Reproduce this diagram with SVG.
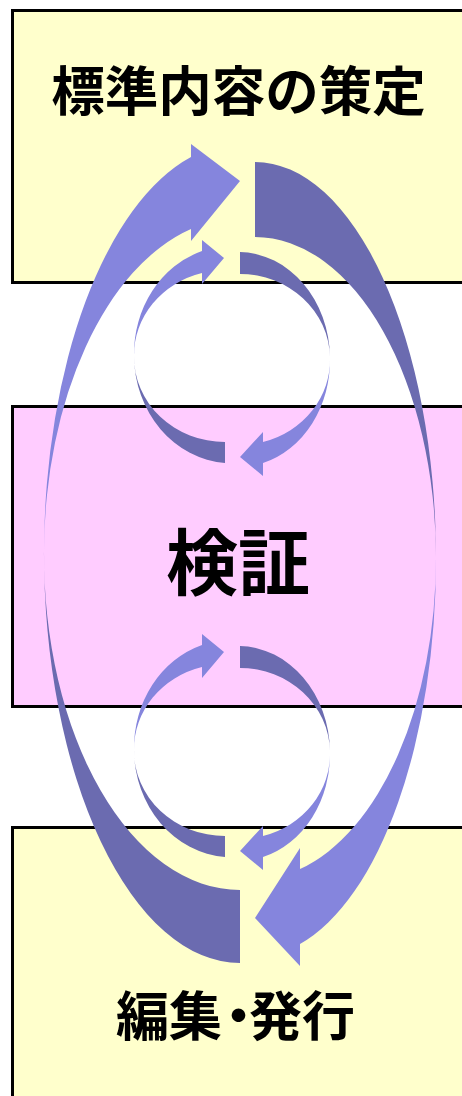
<svg xmlns="http://www.w3.org/2000/svg" width="462" height="1096" viewBox="0 0 462 1096">
<style>
.box{stroke:#000;stroke-width:3}
.yel{fill:#FFFFCC}
.pink{fill:#FFCCFF}
.lbl{font-family:"Noto Sans CJK JP","Noto Sans CJK SC",sans-serif;font-weight:700;fill:#000}
.lt{fill:#8585DD}
.dk{fill:#6B6BB0}
</style>
<defs>
<g id="smallCycle">
<path class="lt" d="M134 356 A98 108 0 0 1 202 251 L202 240 L224 258 L202 284 L202 273 A91 85 0 0 0 134 356 Z"/>
<path class="dk" d="M134 356 A98 108 0 0 0 225 463 L225 442 A91 85 0 0 1 134 356 Z"/>
<path class="dk" d="M330 357 A92 107 0 0 0 240 252 L240 274 A90 85 0 0 1 330 357 Z"/>
<path class="lt" d="M330 357 A92 107 0 0 1 263 463 L263 476 L240 457 L263 432 L263 442 A90 85 0 0 0 330 357 Z"/>
</g>
</defs>
<g id="node-top">
<rect class="box yel" x="12.5" y="10.5" width="470" height="272"/>
<text class="lbl" x="238.5" y="111" font-size="53.5" text-anchor="middle">標準内容の策定</text>
</g>
<g id="node-mid">
<rect class="box pink" x="12.5" y="406.5" width="470" height="300"/>
<text class="lbl" x="238" y="589" font-size="72" text-anchor="middle">検証</text>
</g>
<g id="node-bottom">
<rect class="box yel" x="12.5" y="827.5" width="470" height="300"/>
<text class="lbl" x="116 169 212 249 302" y="1036" font-size="53">編集・発行</text>
</g>
<g id="connectors">
<path class="lt" d="M44 550 A196 410 0 0 1 191 157 L191 144 L240 181 L191 241 L191 229 A196 335 0 0 0 44 550 Z"/>
<path class="dk" d="M44 550 A196 410 0 0 0 240 963 L240 890 A196 335 0 0 1 44 550 Z"/>
<path class="dk" d="M436 558 A181 397 0 0 0 255 162 L255 237 A181 321 0 0 1 436 558 Z"/>
<path class="lt" d="M436 558 A181 397 0 0 1 300 944 L300 966 L255 918 L300 848 L300 869 A181 321 0 0 0 436 558 Z"/>
<use href="#smallCycle"/>
<use href="#smallCycle" transform="translate(0,394)"/>
</g>
</svg>
